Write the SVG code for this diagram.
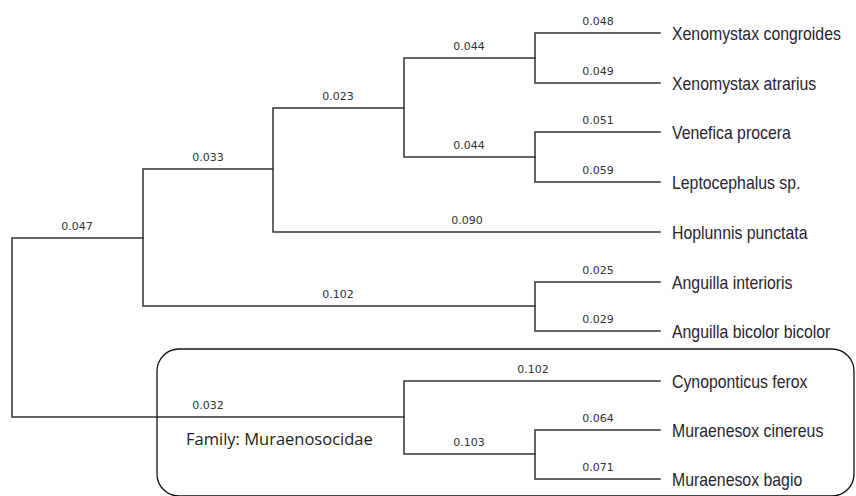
<svg xmlns="http://www.w3.org/2000/svg" width="856" height="496" viewBox="0 0 856 496">
<style>
.br{fill:none;stroke:#333;stroke-width:1.5;stroke-linecap:square}
.bl{font-family:"DejaVu Sans",sans-serif;font-size:11px;fill:#333;text-anchor:middle}
.sp{font-family:"Liberation Sans",Arial,sans-serif;font-size:18px;fill:#2a2430}
.fam{font-family:"Open Sans","Liberation Sans",sans-serif;font-size:16.5px;fill:#222}
</style>
<rect width="856" height="496" fill="#fff"/>
<g id="connectors">
<path class="br" d="M12,238V417M12,238H143M12,417H404"/>
<path class="br" d="M143,169V306M143,169H273M143,306H535"/>
<path class="br" d="M273,108V232M273,108H404M273,232H660"/>
<path class="br" d="M404,58V157M404,58H535M404,157H535"/>
<path class="br" d="M535,33V83M535,33H660M535,83H660"/>
<path class="br" d="M535,132V182M535,132H660M535,182H660"/>
<path class="br" d="M535,282V331M535,282H660M535,331H660"/>
<path class="br" d="M404,381V454M404,381H660M404,454H535"/>
<path class="br" d="M535,430V479M535,430H660M535,479H660"/>
</g>
<g id="branch-labels">
<text class="bl" x="77" y="230">0.047</text>
<text class="bl" x="208" y="161">0.033</text>
<text class="bl" x="338" y="100">0.023</text>
<text class="bl" x="469" y="50">0.044</text>
<text class="bl" x="469" y="149">0.044</text>
<text class="bl" x="598" y="25">0.048</text>
<text class="bl" x="598" y="75">0.049</text>
<text class="bl" x="598" y="124">0.051</text>
<text class="bl" x="598" y="174">0.059</text>
<text class="bl" x="467" y="224">0.090</text>
<text class="bl" x="598" y="274">0.025</text>
<text class="bl" x="598" y="323">0.029</text>
<text class="bl" x="338" y="298">0.102</text>
<text class="bl" x="208" y="409">0.032</text>
<text class="bl" x="533" y="373">0.102</text>
<text class="bl" x="469" y="446">0.103</text>
<text class="bl" x="598" y="422">0.064</text>
<text class="bl" x="598" y="471">0.071</text>
</g>
<g id="leaf-xenomystax-congroides"><text class="sp" transform="translate(672,40) scale(0.88,1)">Xenomystax congroides</text></g>
<g id="leaf-xenomystax-atrarius"><text class="sp" transform="translate(672,90) scale(0.88,1)">Xenomystax atrarius</text></g>
<g id="leaf-venefica-procera"><text class="sp" transform="translate(672,139) scale(0.88,1)">Venefica procera</text></g>
<g id="leaf-leptocephalus"><text class="sp" transform="translate(672,189) scale(0.88,1)">Leptocephalus sp.</text></g>
<g id="leaf-hoplunnis"><text class="sp" transform="translate(672,239) scale(0.88,1)">Hoplunnis punctata</text></g>
<g id="leaf-anguilla-interioris"><text class="sp" transform="translate(672,289) scale(0.88,1)">Anguilla interioris</text></g>
<g id="leaf-anguilla-bicolor"><text class="sp" transform="translate(672,338) scale(0.88,1)">Anguilla bicolor bicolor</text></g>
<g id="leaf-cynoponticus"><text class="sp" transform="translate(672,388) scale(0.88,1)">Cynoponticus ferox</text></g>
<g id="leaf-muraenesox-cinereus"><text class="sp" transform="translate(672,437) scale(0.88,1)">Muraenesox cinereus</text></g>
<g id="leaf-muraenesox-bagio"><text class="sp" transform="translate(672,486) scale(0.88,1)">Muraenesox bagio</text></g>
<g id="family-box">
<rect x="157" y="349" width="697" height="147" rx="22" ry="22" fill="none" stroke="#111" stroke-width="1.3"/>
<text class="fam" x="186" y="445">Family: Muraenosocidae</text>
</g>
</svg>
